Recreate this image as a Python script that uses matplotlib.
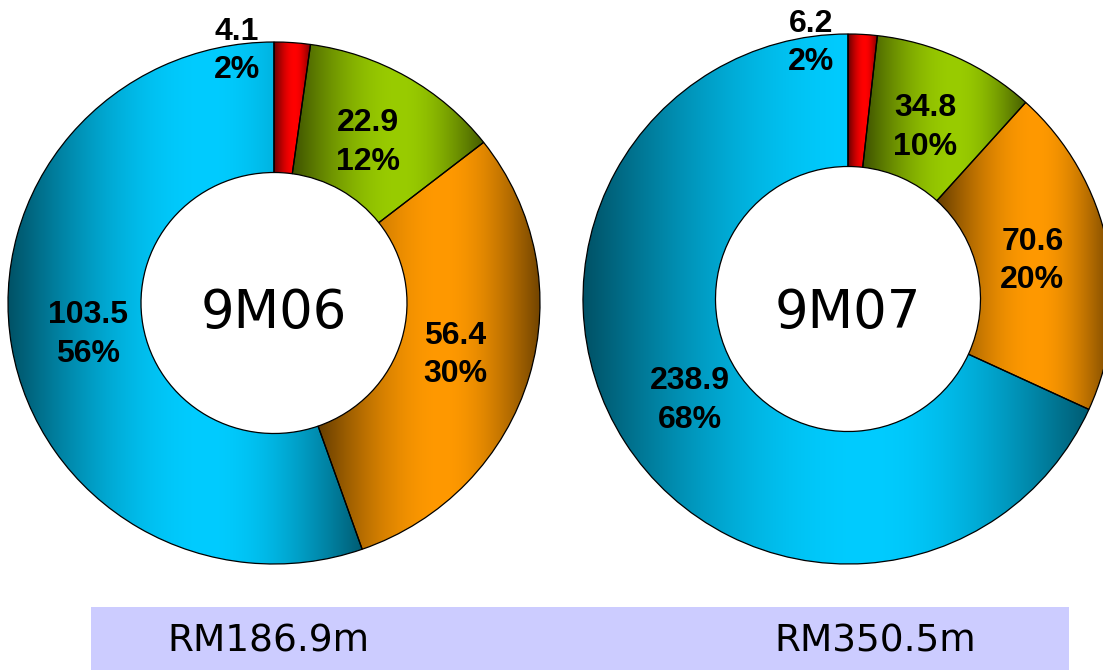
"""Two donut charts, 9M06 vs 9M07, with shaded segments and totals band."""

import matplotlib
matplotlib.use('Agg')
import matplotlib.pyplot as plt
import matplotlib.colors as mcol
from matplotlib.patches import Wedge, Rectangle
from matplotlib.transforms import Affine2D
import numpy as np


periods = ['9M06', '9M07']
values_9m06 = [4.1, 22.9, 56.4, 103.5]
values_9m07 = [6.2, 34.8, 70.6, 238.9]
pct_9m06 = [2, 12, 30, 56]
pct_9m07 = [2, 10, 20, 68]
seg_colors = ['#FF0000', '#99CC00', '#FF9900', '#00CCFF']

W, H = 1103, 670

# donut layout in pixels: centre x, centre y, radius x, radius y
donuts = [
    (274, 303, 266, 261),
    (848, 299, 265, 265),
]
HOLE = 0.5
TOTAL_X = [268, 875]


def shade(hex_color, n=256, peak=0.56, dark_l=0.40, dark_r=0.45):
    """Horizontal dark-bright-dark ramp for a segment."""
    base = np.array(mcol.to_rgb(hex_color))
    t = np.linspace(0, 1, n)
    f = np.empty(n)
    lo = t <= peak
    f[lo] = dark_l + (1 - dark_l) * np.sin(np.pi / 2 * t[lo] / peak)
    u = (t[~lo] - peak) / (1 - peak)
    f[~lo] = dark_r + (1 - dark_r) * np.cos(np.pi / 2 * u)
    return (base[None, :] * f[:, None])[None, :, :]


def draw_donut(ax, values, pcts, period, cx, cy, rx, ry):
    total = sum(values)
    frac = np.cumsum([0] + list(values)) / total
    tr = Affine2D().scale(rx, ry).translate(cx, cy)
    for i, v in enumerate(values):
        # y axis points down, so increasing angle runs clockwise from the top
        t1 = -90 + 360 * frac[i]
        t2 = -90 + 360 * frac[i + 1]
        wedge = Wedge((0, 0), 1, t1, t2, width=1 - HOLE,
                      transform=tr + ax.transData, facecolor='none',
                      edgecolor='black', linewidth=0.9, zorder=3)
        ax.add_patch(wedge)

        ang = np.radians(np.linspace(t1, t2, 300))
        xs = np.concatenate([cx + rx * np.cos(ang), cx + rx * HOLE * np.cos(ang)])
        ys = np.concatenate([cy + ry * np.sin(ang), cy + ry * HOLE * np.sin(ang)])
        im = ax.imshow(shade(seg_colors[i]), extent=(xs.min(), xs.max(), ys.max(), ys.min()),
                       aspect='auto', interpolation='bilinear', zorder=2)
        im.set_clip_path(wedge)

        # data labels
        if frac[i + 1] - frac[i] < 0.05:
            lx, ly = cx - 37, cy - ry + 9
        else:
            mid = np.radians((t1 + t2) / 2)
            lx = cx + 0.71 * rx * np.cos(mid)
            ly = cy + 0.71 * ry * np.sin(mid)
        ax.text(lx, ly, f'{v:.1f}\n{pcts[i]}%', ha='center', va='center',
                fontsize=23, fontweight='bold', family='Liberation Sans',
                linespacing=1.38, zorder=5)

    ax.text(cx, 328, period, ha='center', va='baseline', fontsize=38,
            family='DejaVu Sans', zorder=5)
    return total


fig = plt.figure(figsize=(W / 100, H / 100), dpi=100)
ax = fig.add_axes([0, 0, 1, 1])

totals = []
for period, vals, pcts, geo in zip(periods, [values_9m06, values_9m07],
                                   [pct_9m06, pct_9m07], donuts):
    totals.append(draw_donut(ax, vals, pcts, period, *geo))

# totals band
ax.add_patch(Rectangle((91, 607), 978, 63, facecolor='#CCCCFF',
                       edgecolor='none', zorder=1))
for x, tot in zip(TOTAL_X, totals):
    ax.text(x, 652, f'RM{tot:.1f}m', ha='center', va='baseline',
            fontsize=27, family='DejaVu Sans', zorder=5)

ax.set_xlim(0, W)
ax.set_ylim(H, 0)
ax.axis('off')

fig.savefig('out.png', dpi=100, facecolor='white')
